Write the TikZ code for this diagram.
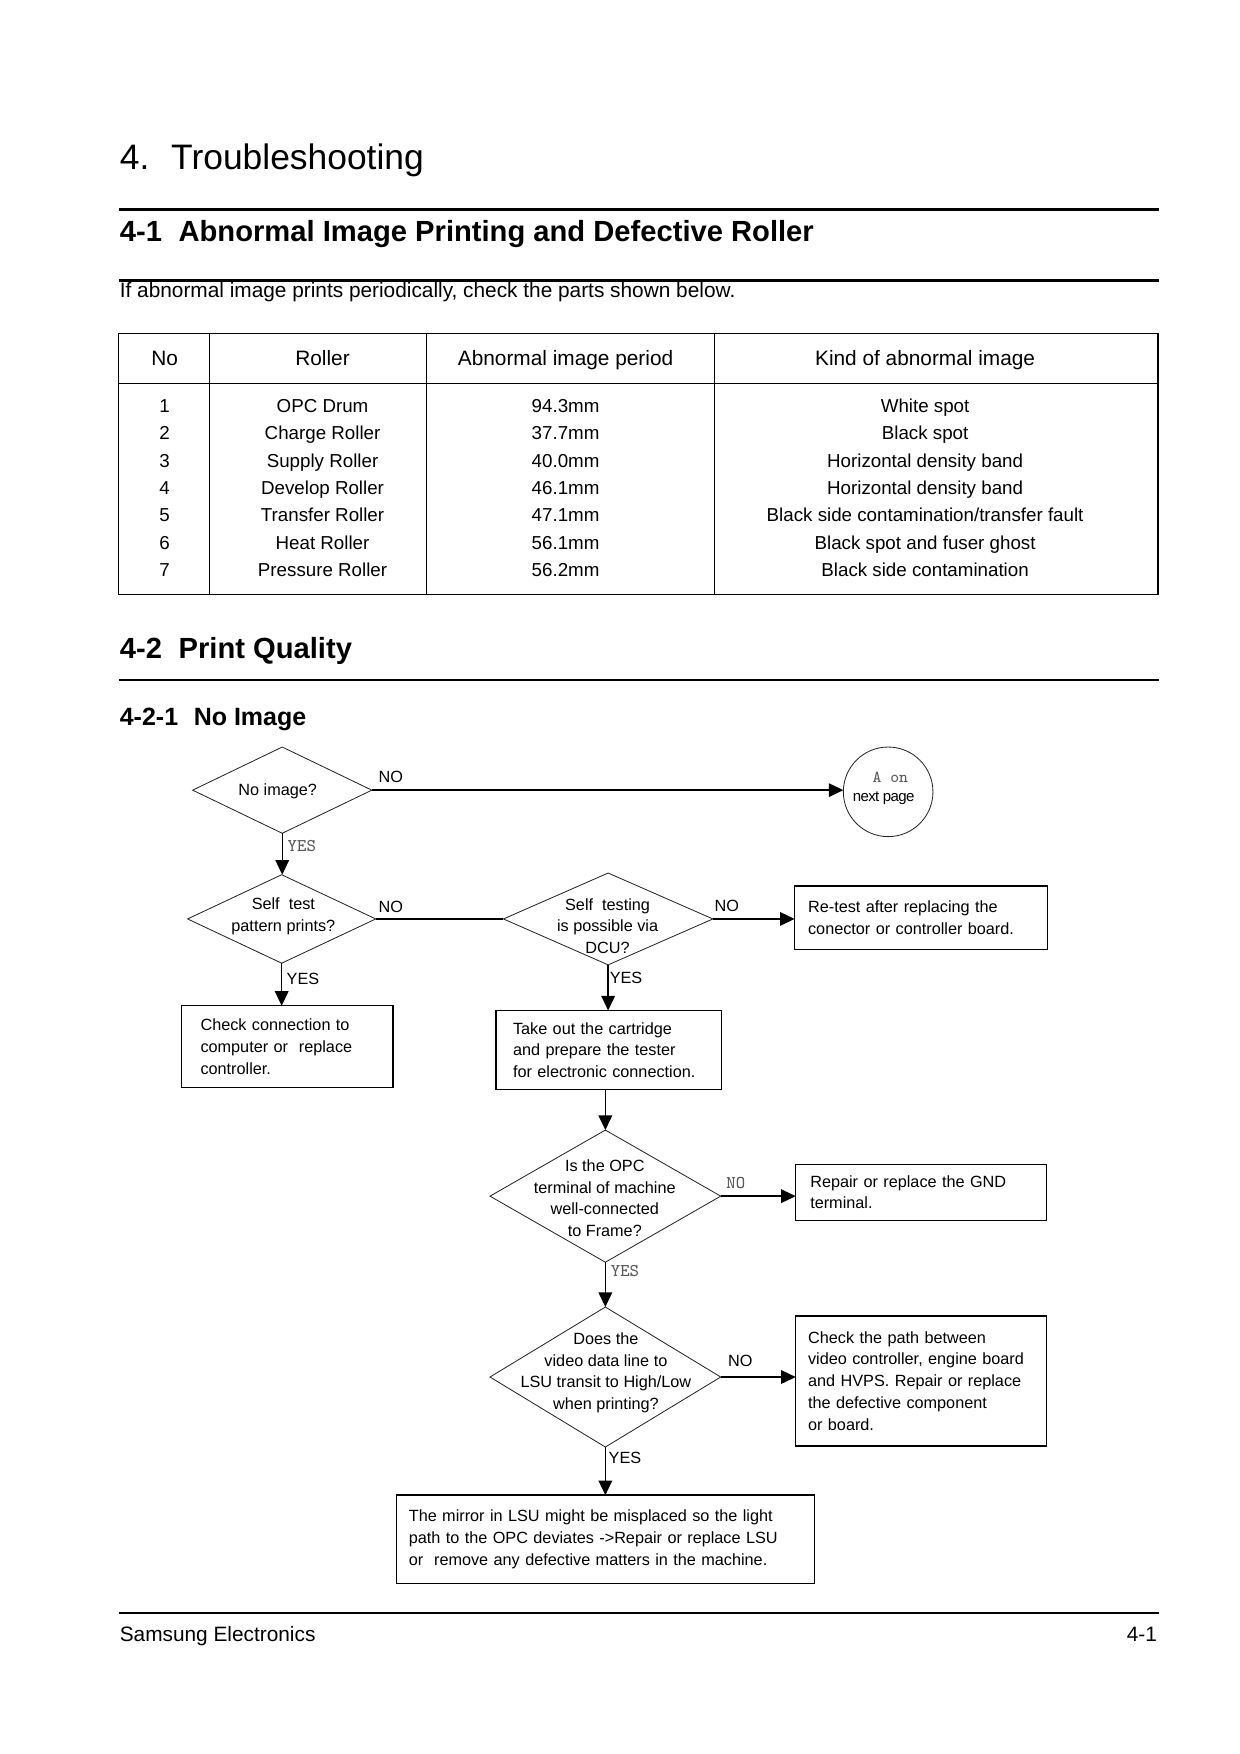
\documentclass[tikz,border=0pt]{standalone}
\usepackage{fontspec}
\setmainfont{Liberation Sans}
\usetikzlibrary{shapes.geometric,arrows.meta}
\newcommand\fcf{\fontsize{7.8}{10.45}\selectfont}
\newcommand\mlf{\ttfamily\fontsize{8.6}{9}\selectfont}
\newcommand\pxu{0.5377pt}
\begin{document}
\begin{tikzpicture}[x=0.5377pt,y=-0.5377pt,
  every node/.style={inner sep=0pt, outer sep=0pt},
  dia/.style={draw=black!85, line width=0.4pt, diamond, inner sep=0pt},
  box/.style={draw, line width=0.7pt, rectangle, align=left, font=\fcf},
  fct/.style={font=\fcf, align=center},
  lab/.style={font=\fcf, anchor=base},
  mlab/.style={font=\mlf, text=black!65, anchor=base},
  arr/.style={line width=0.7pt, -{Triangle[length=7pt,width=6.5pt]}},
  ln/.style={line width=0.7pt},
  rule/.style={line width=1.2pt},
  tline/.style={line width=0.6pt},
  th/.style={font=\fontsize{10}{12}\selectfont, anchor=base},
  td/.style={font=\fontsize{9}{11}\selectfont, anchor=base},
]
\useasboundingbox (0,0) rectangle (1107.1,1566.1);

% ---------- headings ----------
\node[anchor=base west, font=\fontsize{17}{20}\selectfont] (title) at (107,151) {4.\hspace{10.5pt}Troubleshooting};
\draw[rule] (106,187) -- (1035,187);
\node[anchor=base west, font=\bfseries\fontsize{14}{17}\selectfont] (sec1) at (107,216) {4-1\hspace{8pt}Abnormal Image Printing and Defective Roller};
\draw[rule] (106,250.5) -- (1035,250.5);
\node[anchor=base west, font=\fontsize{10}{12}\selectfont] (intro) at (107,265.5) {If abnormal image prints periodically, check the parts shown below.};

% ---------- table ----------
\draw[tline] (106,298) rectangle (1034,531);
\draw[tline] (106,342.5) -- (1034,342.5);
\draw[tline] (187,298) -- (187,531);
\draw[tline] (381,298) -- (381,531);
\draw[tline] (638,298) -- (638,531);
\node[th] (hno) at (147,326) {No};
\node[th] (hro) at (288,326) {Roller};
\node[th] (hpe) at (505,326) {Abnormal image period};
\node[th] (hki) at (826,326) {Kind of abnormal image};
\foreach \nn/\ro/\pe/\ki [count=\i from 0] in {
  1/OPC Drum/94.3mm/White spot,
  2/Charge Roller/37.7mm/Black spot,
  3/Supply Roller/40.0mm/Horizontal density band,
  4/Develop Roller/46.1mm/Horizontal density band,
  5/Transfer Roller/47.1mm/Black side contamination\slash transfer fault,
  6/Heat Roller/56.1mm/Black spot and fuser ghost,
  7/Pressure Roller/56.2mm/Black side contamination}{
  \node[td] (no\nn) at (147,368.5+24.35*\i) {\nn};
  \node[td] (ro\nn) at (288,368.5+24.35*\i) {\ro};
  \node[td] (pe\nn) at (505,368.5+24.35*\i) {\pe};
  \node[td] (ki\nn) at (826,368.5+24.35*\i) {\ki};
}

% ---------- section 4-2 ----------
\node[anchor=base west, font=\bfseries\fontsize{14}{17}\selectfont] (sec2) at (107,588) {4-2\hspace{8pt}Print Quality};
\draw[rule] (106,607) -- (1035,607);
\node[anchor=base west, font=\bfseries\fontsize{12}{14}\selectfont] (sub) at (107,648) {4-2-1\hspace{7.5pt}No Image};

% ---------- flowchart ----------
\node[dia, minimum width=160*\pxu, minimum height=77*\pxu] (d1) at (252,705.5) {};
\node[lab] (d1t) at (248,710) {No image?};

\node[draw=black!85, line width=0.4pt, circle, minimum size=80*\pxu] (ca) at (793,707) {};
\node[mlab, font=\ttfamily\fontsize{8}{8}\selectfont] (caA) at (795,699) {A on};
\node[anchor=base, font=\fontsize{7.2}{8}\selectfont] (caB) at (789,716) {\addfontfeatures{LetterSpace=-4}next page};

\node[dia, minimum width=168*\pxu, minimum height=79*\pxu] (d2) at (251.5,820.5) {};
\node[fct] (d2t) at (253,818.3) {Self\ \ test\\pattern prints?};

\node[dia, minimum width=187*\pxu, minimum height=82*\pxu] (d3) at (543,820.5) {};
\node[fct] (d3t) at (542.5,826.8) {Self\ \ testing\\is possible via\\DCU?};

\node[box, minimum width=226*\pxu, minimum height=57*\pxu, text width=108.6pt, inner xsep=6.45pt] (r1) at (822.5,819.5) {Re-test after replacing the\\conector or controller board.};

\node[box, minimum width=189*\pxu, minimum height=73*\pxu, text width=83.3pt, inner xsep=9.14pt] (l1) at (256.5,934.5) {Check connection to\\computer or\ \ replace\\controller.};

\node[box, minimum width=201*\pxu, minimum height=70.5*\pxu, text width=91.9pt, inner xsep=8.07pt] (c1) at (543.5,937.5) {Take out the cartridge\\and prepare the tester\\for electronic connection.};

\node[dia, minimum width=206*\pxu, minimum height=118*\pxu] (d4) at (540.5,1068) {};
\node[fct] (d4t) at (540,1069.8) {Is the OPC\\terminal of machine\\well-connected\\to Frame?};

\node[box, minimum width=224*\pxu, minimum height=50*\pxu, text width=106.5pt, inner xsep=6.99pt] (r2) at (822.5,1064.5) {Repair or replace the GND\\terminal.};

\node[dia, minimum width=206*\pxu, minimum height=125*\pxu] (d5) at (540.5,1229.5) {};
\node[fct] (d5t) at (541,1225.8) {Does the\\video data line to\\LSU transit to High/Low\\when printing?};

\node[box, minimum width=224*\pxu, minimum height=116*\pxu, text width=108.6pt, inner xsep=5.91pt] (r3) at (822.5,1233) {Check the path between\\video controller, engine board\\and HVPS. Repair or replace\\the defective component\\or board.};

\node[box, minimum width=373*\pxu, minimum height=79*\pxu, text width=188.7pt, inner xsep=5.91pt] (b) at (540.5,1374.5) {The mirror in LSU might be misplaced so the light\\path to the OPC deviates ->Repair or replace LSU\\or\ \ remove any defective matters in the machine.};

% connectors
\draw[arr] (d1.east) -- (d1.east -| ca.west);
\draw[arr] (d1.south) -- (d1.south |- d2.north);
\draw[ln] (d2.east) -- (d3.west);
\draw[arr] (d3.east) -- (d3.east -| r1.west);
\draw[arr] (d2.south) -- (d2.south |- l1.north);
\draw[arr] (d3.south) -- (d3.south |- c1.north);
\draw[arr] (d4.north |- c1.south) -- (d4.north);
\draw[arr] (d4.east) -- (d4.east -| r2.west);
\draw[arr] (d4.south) -- (d5.north);
\draw[arr] (d5.east) -- (d5.east -| r3.west);
\draw[arr] (d5.south) -- (d5.south |- b.north);

% connector labels
\node[lab] (no1) at (349,699) {NO};
\node[mlab] (yes1) at (269.5,760) {YES};
\node[lab] (no2) at (349,815) {NO};
\node[lab] (no3) at (649,814) {NO};
\node[lab] (yes2) at (270.5,879) {YES};
\node[lab] (yes3) at (559,878) {YES};
\node[mlab] (no4) at (657,1061) {NO};
\node[mlab] (yes4) at (558,1140) {YES};
\node[lab] (no5) at (661,1220) {NO};
\node[lab] (yes5) at (558,1307) {YES};

% ---------- footer ----------
\draw[line width=1pt] (106,1440) -- (1035,1440);
\node[anchor=base west, font=\fontsize{10}{12}\selectfont] (foot) at (107,1466) {Samsung Electronics};
\node[anchor=base east, font=\fontsize{10}{12}\selectfont] (pg) at (1033,1466) {4-1};
\end{tikzpicture}
\end{document}
